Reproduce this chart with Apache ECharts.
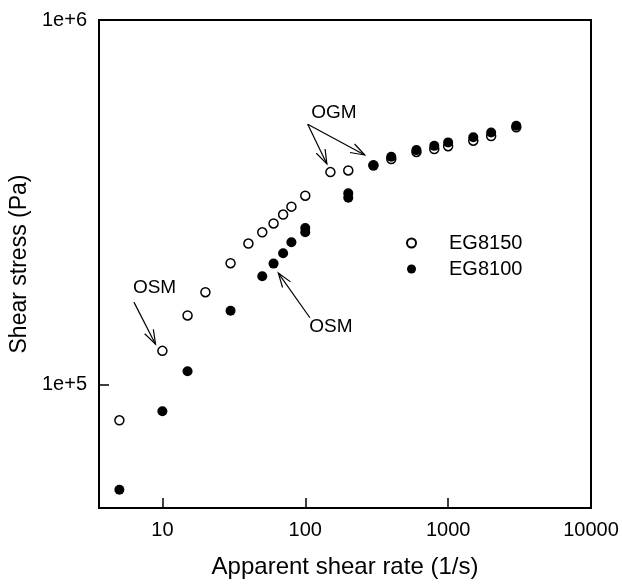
<!DOCTYPE html>
<html><head><meta charset="utf-8">
<script src="https://cdn.jsdelivr.net/npm/echarts@6/dist/echarts.min.js"></script>
<style>html,body{margin:0;padding:0;background:#fff}#c{width:622px;height:584px}</style>
</head><body><div id="c"></div>
<script>
const FONT = "'Liberation Sans', Arial, Helvetica, sans-serif";

// ---- data ----
const seriesNames = ['EG8150', 'EG8100'];
const rateEG8150 = [5, 10, 15, 20, 30, 40, 50, 60, 70, 80, 100, 150, 200, 300, 400, 600, 800, 1000, 1500, 2000, 3000];
const stressEG8150 = [80000, 124000, 155000, 179500, 215600, 244000, 262000, 277000, 293000, 308000, 330000, 383000, 387000, 400000, 416000, 435000, 443000, 451000, 467000, 481000, 508000];
const rateEG8100 = [5, 10, 15, 30, 50, 60, 70, 80, 100, 100, 200, 200, 300, 400, 600, 800, 1000, 1500, 2000, 3000];
const stressEG8100 = [51600, 84700, 109000, 159600, 198600, 215000, 229600, 246000, 269000, 262000, 335000, 326000, 399000, 422000, 440000, 452000, 462000, 477000, 492000, 513000];
const xTickValues = [10, 100, 1000, 10000];
const xTickLabels = ['10', '100', '1000', '10000'];
const yTickValues = [100000, 1000000];
const yTickLabels = ['1e+5', '1e+6'];

// annotations in data coordinates: text position, arrow start, arrow tips
const annotations = [
  { text: 'OGM', at: [158.5, 556000], from: [104, 518000], tips: [[141.7, 403300], [260.8, 426700]] },
  { text: 'OSM', at: [8.81, 184400], from: [6.32, 168600], tips: [[8.95, 129300]] },
  { text: 'OSM', at: [151, 144000], from: [107.8, 152800], tips: [[64.8, 202500]] }
];

function labelFor(values, labels) {
  return function (v) {
    for (let i = 0; i < values.length; i++) {
      if (Math.abs(Math.log10(v) - Math.log10(values[i])) < 1e-6) return labels[i];
    }
    return '';
  };
}

const chart = echarts.init(document.getElementById('c'), null, { renderer: 'canvas' });
const option = {
  animation: false,
  textStyle: { fontFamily: FONT },
  grid: { left: 99, right: 31, top: 20, bottom: 72, show: true, borderColor: '#000', borderWidth: 2, backgroundColor: 'transparent' },
  legend: {
    data: seriesNames,
    orient: 'vertical',
    left: 401, top: 228,
    itemWidth: 65, itemHeight: 9, itemGap: 6,
    textStyle: { fontFamily: FONT, fontSize: 20, color: '#000', lineHeight: 20 },
    selectedMode: false
  },
  xAxis: {
    type: 'log', logBase: 10, min: 3.6, max: 10000,
    name: 'Apparent shear rate (1/s)', nameLocation: 'middle', nameGap: 47,
    nameTextStyle: { fontFamily: FONT, fontSize: 24, color: '#000' },
    axisLine: { show: true, lineStyle: { color: '#000', width: 2 } },
    axisTick: { show: true, inside: false, length: -10, lineStyle: { color: '#000', width: 1.5 } },
    axisLabel: { show: true, showMinLabel: false, margin: 12, fontFamily: FONT, fontSize: 20, color: '#000', formatter: labelFor(xTickValues, xTickLabels) },
    splitLine: { show: false }, minorTick: { show: false }
  },
  yAxis: {
    type: 'log', logBase: 10, min: 46000, max: 1000000,
    name: 'Shear stress (Pa)', nameLocation: 'middle', nameGap: 62, nameRotate: 90,
    nameTextStyle: { fontFamily: FONT, fontSize: 23, color: '#000' },
    axisLine: { show: true, lineStyle: { color: '#000', width: 2 } },
    axisTick: { show: true, inside: false, length: -10, lineStyle: { color: '#000', width: 1.5 } },
    axisLabel: { show: true, showMinLabel: false, margin: 12, fontFamily: FONT, fontSize: 20, color: '#000', formatter: labelFor(yTickValues, yTickLabels) },
    splitLine: { show: false }, minorTick: { show: false }
  },
  series: [
    {
      name: seriesNames[0], type: 'scatter', symbol: 'circle', symbolSize: 9,
      itemStyle: { color: '#fff', borderColor: '#000', borderWidth: 1.5, opacity: 1 },
      emphasis: { disabled: true },
      data: rateEG8150.map((x, i) => [x, stressEG8150[i]]), z: 2
    },
    {
      name: seriesNames[1], type: 'scatter', symbol: 'circle', symbolSize: 10,
      itemStyle: { color: '#000', borderColor: '#000', borderWidth: 0, opacity: 1 },
      emphasis: { disabled: true },
      data: rateEG8100.map((x, i) => [x, stressEG8100[i]]), z: 3
    }
  ]
};
chart.setOption(option);

// draw annotations (text + open-V arrows) positioned through the axes' own scales
function buildAnnotations() {
  const els = [];
  const toPx = p => chart.convertToPixel({ gridIndex: 0 }, p);
  annotations.forEach(a => {
    const t = toPx(a.at);
    els.push({ type: 'text', x: t[0], y: t[1], style: { text: a.text, font: '19px ' + FONT, fill: '#000', align: 'center', verticalAlign: 'middle' }, z: 10 });
    const s = toPx(a.from);
    a.tips.forEach(tp => {
      const e = toPx(tp);
      els.push({ type: 'line', shape: { x1: s[0], y1: s[1], x2: e[0], y2: e[1] }, style: { stroke: '#000', lineWidth: 1.2 }, z: 10 });
      const ang = Math.atan2(e[1] - s[1], e[0] - s[0]);
      const L = 15, h = 0.33;
      const b1 = [e[0] - L * Math.cos(ang - h), e[1] - L * Math.sin(ang - h)];
      const b2 = [e[0] - L * Math.cos(ang + h), e[1] - L * Math.sin(ang + h)];
      els.push({ type: 'polyline', shape: { points: [b1, e, b2] }, style: { stroke: '#000', lineWidth: 1.2, fill: null }, z: 10 });
    });
  });
  chart.setOption({ graphic: { elements: els } });
}
buildAnnotations();
</script>
</body></html>
